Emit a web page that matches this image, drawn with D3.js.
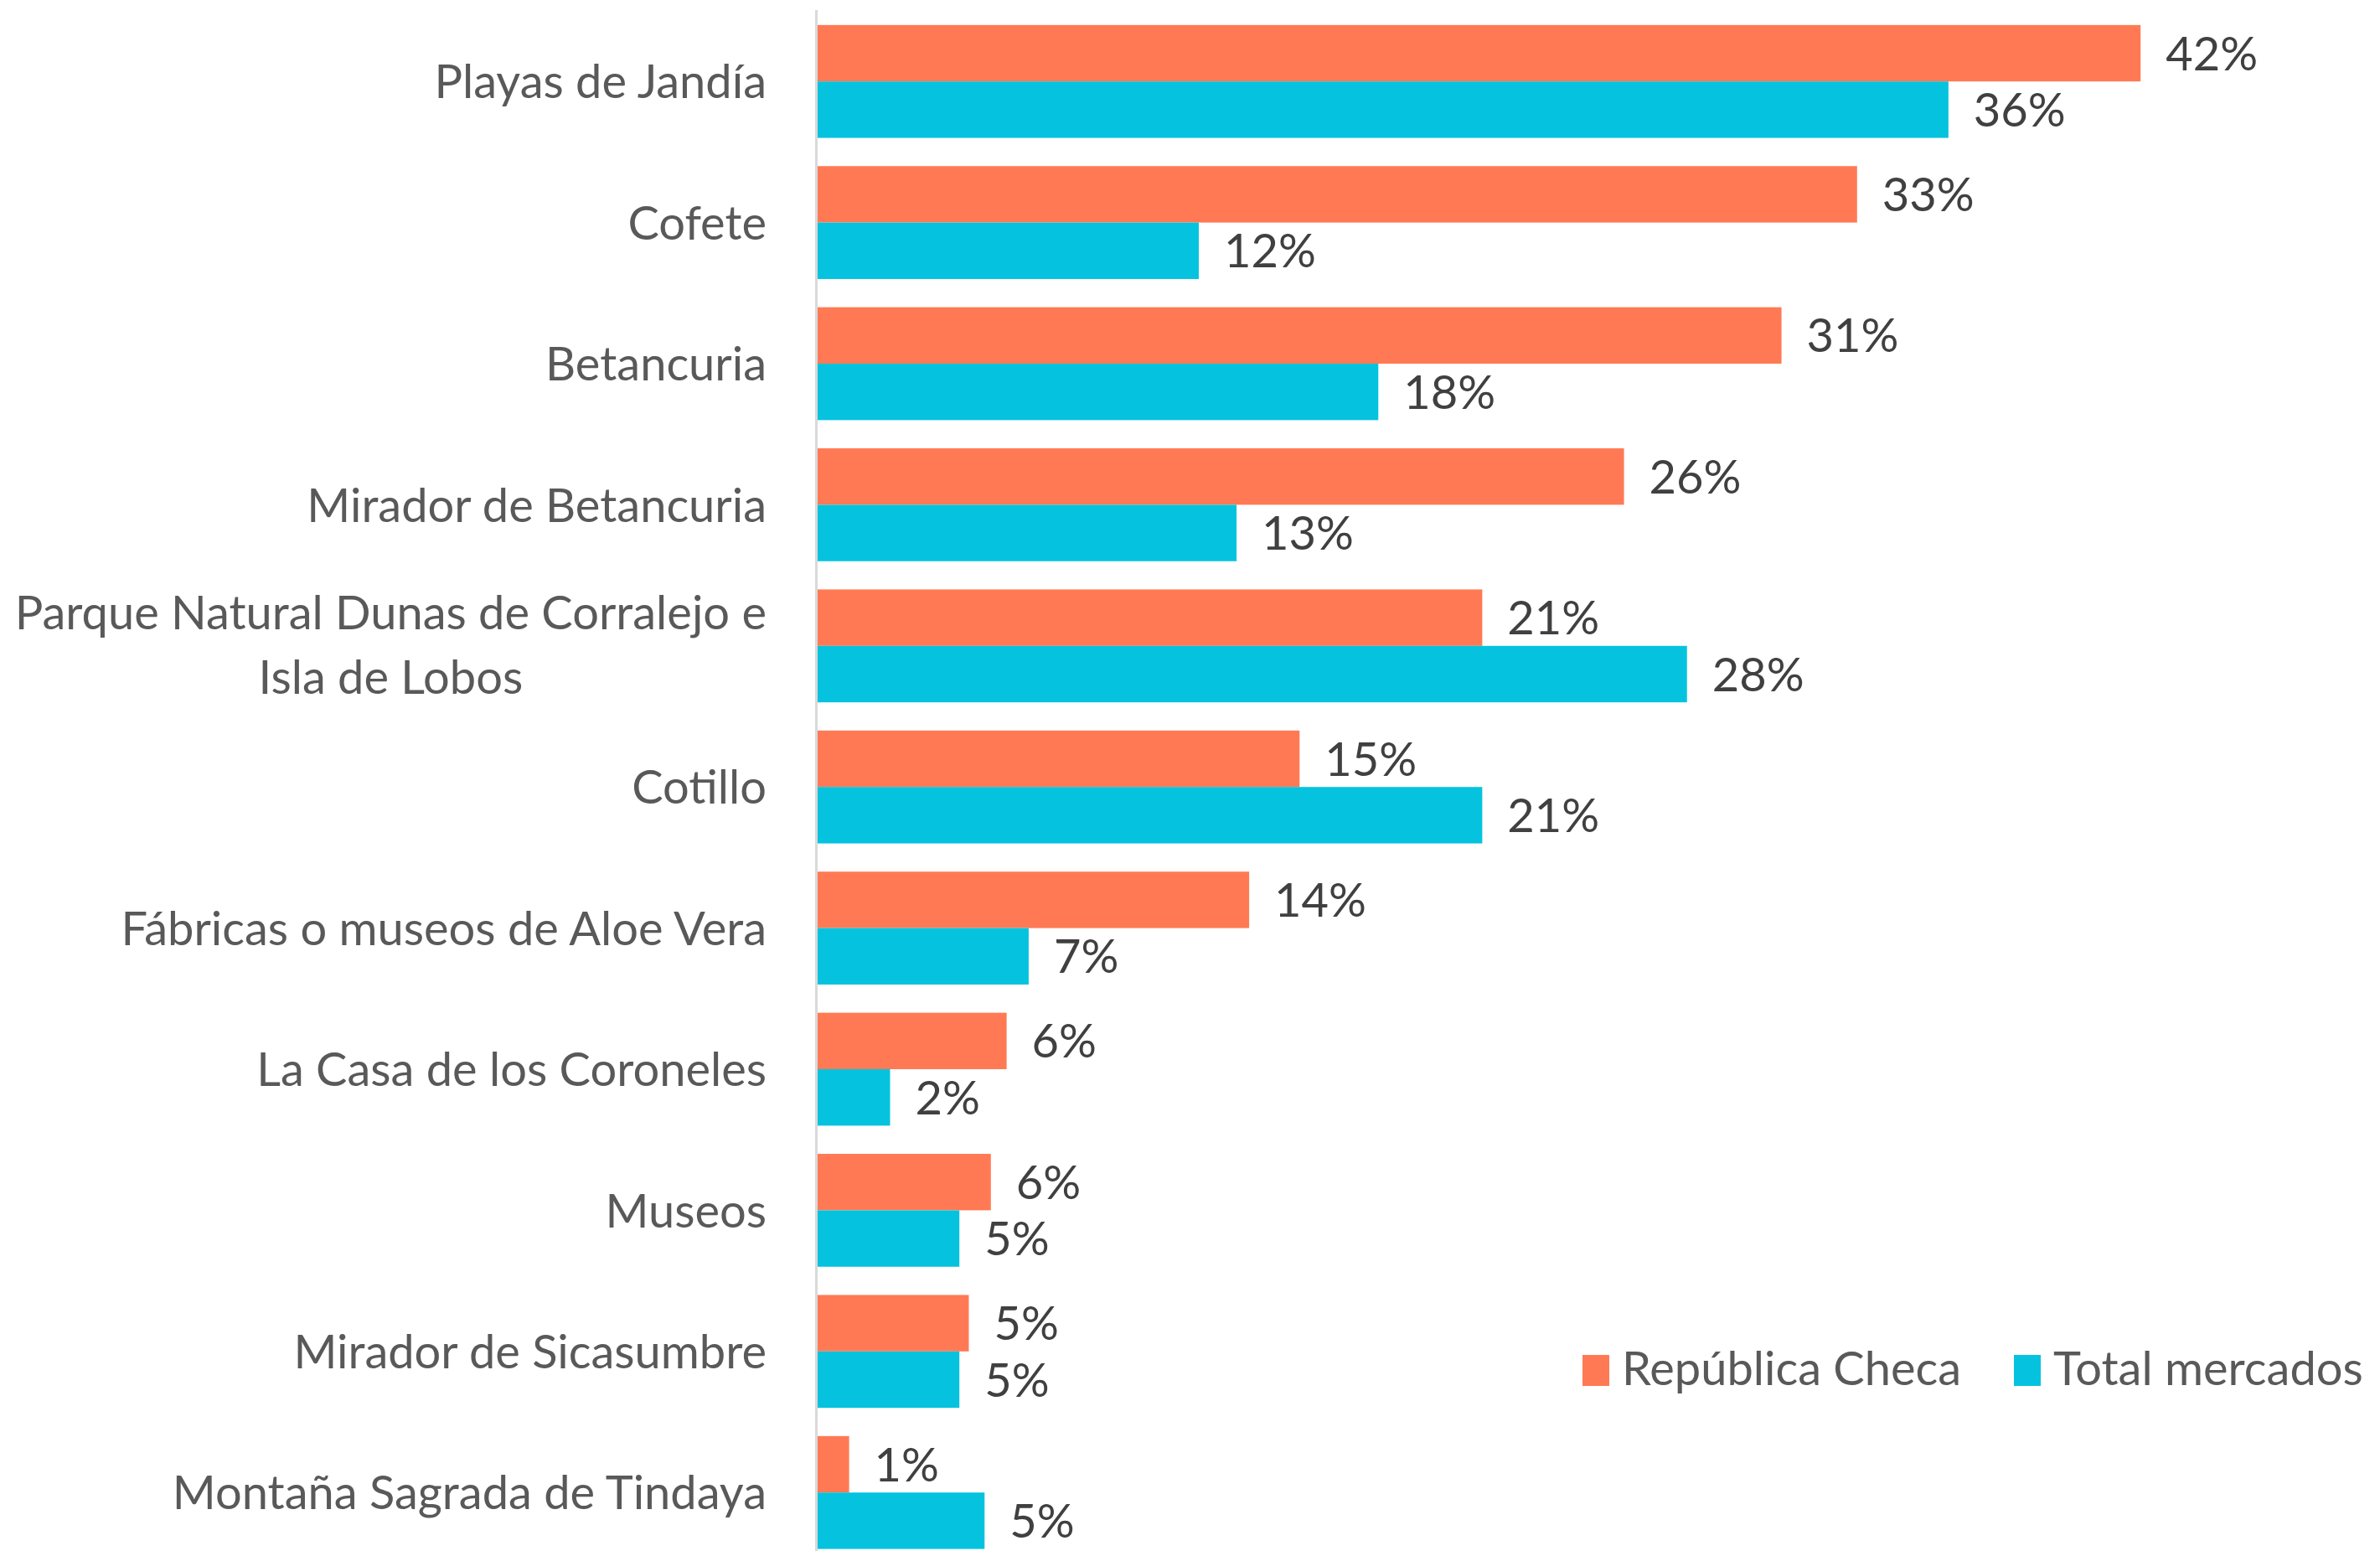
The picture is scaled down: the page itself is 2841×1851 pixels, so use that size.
<!DOCTYPE html>
<html>
<head>
    <meta charset="utf-8" />
    <title>Lugares visitados</title>
    <script src="https://d3js.org/d3.v7.min.js"></script>
    <style>
        html, body {
            margin: 0;
            padding: 0;
            background-color: #fff;
        }
        svg text {
            font-family: Lato, 'Open Sans', sans-serif;
        }
    </style>
</head>
<body>
    <div class="canvas"></div>
    <script>
        var categories = [
            "Playas de Jandía",
            "Cofete",
            "Betancuria",
            "Mirador de Betancuria",
            ["Parque Natural Dunas de Corralejo e", "Isla de Lobos"],
            "Cotillo",
            "Fábricas o museos de Aloe Vera",
            "La Casa de los Coroneles",
            "Museos",
            "Mirador de Sicasumbre",
            "Montaña Sagrada de Tindaya"
        ];
        var republicaCheca = [42, 33, 30.6, 25.6, 21.1, 15.3, 13.7, 6, 5.5, 4.8, 1];
        var totalMercados  = [35.9, 12.1, 17.8, 13.3, 27.6, 21.1, 6.7, 2.3, 4.5, 4.5, 5.3];
        var seriesNames = ["República Checa", "Total mercados"];
        var colors = ["#FF7A54", "#05C3DE"];

        var width = 2841;
        var height = 1851;

        var svg = d3.select(".canvas")
            .append("svg")
            .attr("width", width)
            .attr("height", height);

        var x = d3.scaleLinear()
            .domain([0, 45])
            .range([976, 976 + 45 * 37.6]);

        var y = d3.scaleBand()
            .domain(d3.range(categories.length))
            .range([13, 13 + 168.4 * categories.length])
            .paddingInner(0.2)
            .paddingOuter(0.1);

        var sub = d3.scaleBand()
            .domain([0, 1])
            .range([0, y.bandwidth()]);

        var rows = categories.map(function(c, i) {
            return { cat: c, vals: [republicaCheca[i], totalMercados[i]] };
        });

        var fmt = function(v) { return d3.format(".0f")(v) + "%"; };

        var groups = svg.selectAll("g.row")
            .data(rows)
            .enter()
            .append("g")
            .attr("class", "row")
            .attr("transform", function(d, i) { return "translate(0," + y(i) + ")"; });

        groups.selectAll("rect")
            .data(function(d) { return d.vals; })
            .enter()
            .append("rect")
            .attr("x", x(0))
            .attr("y", function(d, j) { return sub(j); })
            .attr("width", function(d) { return x(d) - x(0); })
            .attr("height", sub.bandwidth())
            .attr("fill", function(d, j) { return colors[j]; });

        groups.selectAll("text.val")
            .data(function(d) { return d.vals; })
            .enter()
            .append("text")
            .attr("class", "val")
            .attr("x", function(d) { return x(d) + 30; })
            .attr("y", function(d, j) { return sub(j) + sub.bandwidth() / 2; })
            .attr("dy", "0.36em")
            .attr("font-size", 56)
            .attr("fill", "#404040")
            .text(fmt);

        // category labels, right aligned 60px left of the axis
        var labelRight = x(0) - 61;
        groups.each(function(d) {
            var g = d3.select(this);
            var mid = y.bandwidth() / 2;
            if (Array.isArray(d.cat)) {
                var t1 = g.append("text")
                    .attr("font-size", 56)
                    .attr("fill", "#595959")
                    .attr("text-anchor", "middle")
                    .text(d.cat[0]);
                var w = t1.node().getComputedTextLength();
                var cx = labelRight - w / 2;
                t1.attr("x", cx).attr("y", mid - 38 + 18);
                g.append("text")
                    .attr("font-size", 56)
                    .attr("fill", "#595959")
                    .attr("text-anchor", "middle")
                    .attr("x", cx)
                    .attr("y", mid + 39 + 18)
                    .text(d.cat[1]);
            } else {
                g.append("text")
                    .attr("x", labelRight)
                    .attr("y", mid)
                    .attr("dy", "0.36em")
                    .attr("font-size", 56)
                    .attr("fill", "#595959")
                    .attr("text-anchor", "end")
                    .text(d.cat);
            }
        });

        // axis line
        svg.append("line")
            .attr("x1", x(0) - 1.5)
            .attr("x2", x(0) - 1.5)
            .attr("y1", 12)
            .attr("y2", height)
            .attr("stroke", "#D9D9D9")
            .attr("stroke-width", 3);

        // legend
        var legend = svg.append("g").attr("class", "legend");
        var legendX = [1889, 2404];
        seriesNames.forEach(function(name, j) {
            legend.append("rect")
                .attr("x", legendX[j])
                .attr("y", 1617)
                .attr("width", 32)
                .attr("height", 37)
                .attr("fill", colors[j]);
            legend.append("text")
                .attr("x", legendX[j] + 47)
                .attr("y", 1653)
                .attr("font-size", 56)
                .attr("fill", "#595959")
                .text(name);
        });
    </script>
</body>
</html>
